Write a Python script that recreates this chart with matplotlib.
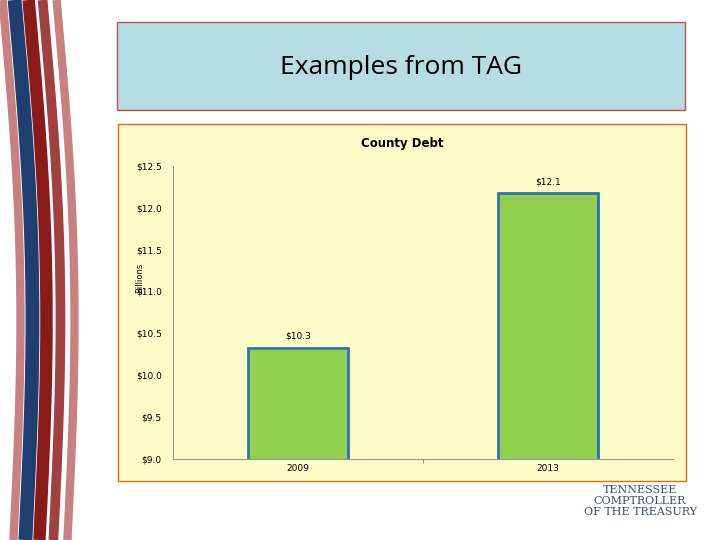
import matplotlib
matplotlib.use("Agg")
import matplotlib.pyplot as plt
import numpy as np
from matplotlib.patches import Rectangle

categories = ["2009", "2013"]
values = [10.33, 12.17]
value_labels = ["$10.3", "$12.1"]
yticks = [9.0, 9.5, 10.0, 10.5, 11.0, 11.5, 12.0, 12.5]

fig = plt.figure(figsize=(7.2, 5.4), dpi=100)
fig.patch.set_facecolor("white")

# decorative stripes on the left
bg = fig.add_axes([0, 0, 1, 1])
bg.set_xlim(0, 720); bg.set_ylim(540, 0); bg.axis("off")
yy = np.linspace(0, 540, 200)
stripes = [(8, "#c98080", 6), (20, "#1f3f70", 10), (34, "#8b1a1a", 9), (48, "#a04040", 7), (62, "#c98080", 6)]
for x0, c, lw in stripes:
    xx = x0 + 12 * np.sin(yy / 540 * np.pi) + 0.02 * (yy - 270)
    bg.plot(xx, yy, color=c, lw=lw, solid_capstyle="butt")

bg.add_patch(Rectangle((117, 22), 568, 88, facecolor="#b7dde4", edgecolor="#c0504d", lw=1))
bg.text(401, 68, "Examples from TAG", ha="center", va="center", fontsize=19, family="Open Sans")
bg.add_patch(Rectangle((118, 124), 568, 357, facecolor="#fffbc8", edgecolor="#e46c0a", lw=1))
bg.text(402, 143, "County Debt", ha="center", va="center", fontsize=8.5, fontweight="bold")
bg.text(140, 278, "Billions", rotation=90, ha="center", va="center", fontsize=6)
bg.text(640, 485, "TENNESSEE\nCOMPTROLLER\nOF THE TREASURY", ha="center", va="top", fontsize=8,
        color="#3a4f70", family="DejaVu Serif", linespacing=1.1)

ax = fig.add_axes([0.240, 0.150, 0.695, 0.543])
ax.set_facecolor("#fffbc8")
x = np.arange(len(categories))
ax.bar(x, values, width=0.4, color="#92d050", edgecolor="#2e75b6", lw=2)
for xi, v, lab in zip(x, values, value_labels):
    ax.text(xi, v + 0.08, lab, ha="center", va="bottom", fontsize=6.5)
ax.set_xlim(-0.5, 1.5)
ax.set_ylim(9.0, 12.5)
ax.set_yticks(yticks)
ax.set_yticklabels([f"${t:.1f}" for t in yticks], fontsize=6.5)
ax.set_xticks(x)
ax.set_xticklabels(categories, fontsize=6.5)
ax.set_xticks([0.5], minor=True)
ax.tick_params(axis="y", length=0, pad=8)
ax.tick_params(axis="x", length=0)
ax.tick_params(axis="x", which="minor", length=3, color="#808080")
for s in ax.spines.values():
    s.set_color("#808080"); s.set_linewidth(0.6)
ax.spines["top"].set_visible(False)
ax.spines["right"].set_visible(False)

fig.savefig("out.png", dpi=100)
